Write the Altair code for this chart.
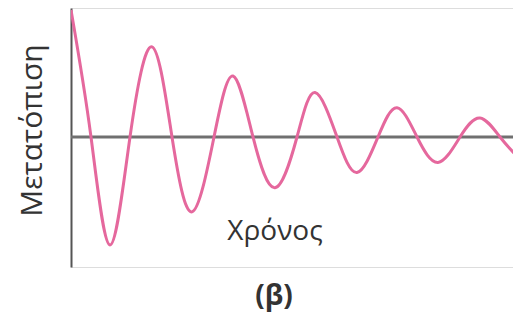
import altair as alt
import pandas as pd

# Damped oscillation (time in arbitrary units, displacement normalised)
time = [0.00, 0.20, 0.39, 0.59, 0.81, 1.01, 1.21, 1.43, 1.62, 1.82, 2.04, 2.26,
        2.44, 2.66, 2.86, 3.07, 3.26, 3.46, 3.67, 3.89, 4.09, 4.29, 4.47]
displacement = [1.00, 0.00, -0.85, 0.00, 0.71, 0.00, -0.59, 0.00, 0.48, 0.00, -0.40, 0.00,
                0.35, 0.00, -0.28, 0.00, 0.23, 0.00, -0.20, 0.00, 0.15, 0.00, -0.16]

x_domain = [0.0, 4.42]
y_domain = [-1.024, 1.016]

y_title = "Μετατόπιση"
x_label = "Χρόνος"
panel_label = "(β)"

FONT = "Open Sans"
PINK = "#e5689d"
GRAY = "#707070"
TEXT = "#333333"

df = pd.DataFrame({"t": time, "d": displacement})
zero_df = pd.DataFrame({"t0": [x_domain[0]], "t1": [x_domain[1]], "d": [0.0]})
label_df = pd.DataFrame({"label": [x_label]})

xs = alt.Scale(domain=x_domain, nice=False, zero=False)
ys = alt.Scale(domain=y_domain, nice=False, zero=False)

zero_line = alt.Chart(zero_df).mark_rule(color=GRAY, strokeWidth=3).encode(
    x=alt.X("t0:Q", scale=xs, axis=None),
    x2="t1:Q",
    y=alt.Y("d:Q", scale=ys,
            axis=alt.Axis(title=y_title, domain=True, domainColor="#555555", domainWidth=2,
                          ticks=False, labels=False, grid=False,
                          titleFont=FONT, titleFontSize=30, titleFontWeight="normal",
                          titleColor=TEXT, titleAngle=270, titleAlign="center",
                          titleBaseline="middle", titleX=-39, titleY=122)),
)

curve = alt.Chart(df).mark_line(color=PINK, strokeWidth=3, interpolate="natural", clip=True).encode(
    x=alt.X("t:Q", scale=xs, axis=None),
    y=alt.Y("d:Q", scale=ys),
)

label = alt.Chart(label_df).mark_text(
    font=FONT, fontSize=28, color=TEXT, align="center", baseline="alphabetic"
).encode(
    text="label:N",
    x=alt.value(204),
    y=alt.value(232),
)

chart = alt.layer(zero_line, curve, label).properties(
    width=442,
    height=259,
    autosize=alt.AutoSizeParams(type="none"),
    padding={"left": 63, "top": 0, "right": 0, "bottom": 47},
    title=alt.TitleParams(text=panel_label, orient="bottom", anchor="middle", dx=-18, offset=16,
                          font=FONT, fontSize=28, fontWeight="bold", color=TEXT),
).configure_view(stroke=None).configure(background="white")

chart.save("out.html", embed_options={"renderer": "svg", "actions": False})
